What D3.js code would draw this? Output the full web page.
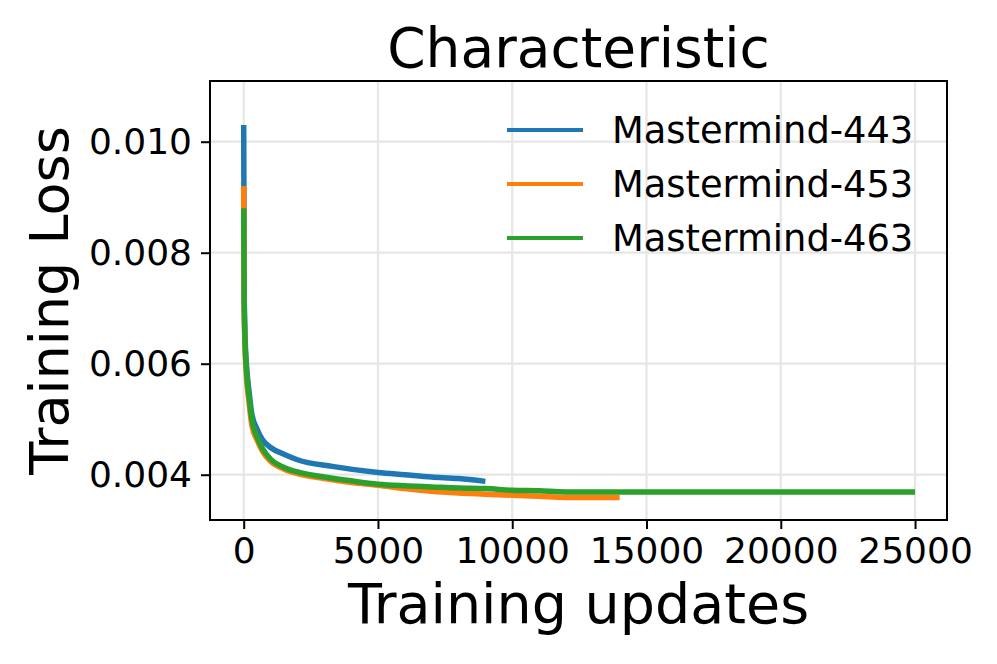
<!DOCTYPE html>
<html>
<head>
<meta charset="utf-8">
<script src="https://cdn.jsdelivr.net/npm/d3@7"></script>
<style>
  body { margin: 0; background: #fff; }
  text { font-family: "DejaVu Sans", sans-serif; fill: #000; }
</style>
</head>
<body>
<div id="chart"></div>
<script>
// values
var seriesNames = ["Mastermind-443", "Mastermind-453", "Mastermind-463"];
var seriesColors = ["#1f77b4", "#ff7f0e", "#2ca02c"];

var steps443 = [0, 20, 50, 100, 200, 300, 500, 700, 1000, 1500, 2000, 3300, 5000, 6000, 7000, 8000, 9000];
var loss443 = [0.0103, 0.0072, 0.0065, 0.0060, 0.0055, 0.0051, 0.00482, 0.00463, 0.00449, 0.00437, 0.00427, 0.00415, 0.00404, 0.00400, 0.00396, 0.00393, 0.00388];

var steps453 = [0, 20, 50, 100, 200, 300, 500, 700, 1000, 1500, 2000, 3000, 4000, 5000, 6000, 7000, 8000, 9000, 10000, 11000, 12000, 13000, 14000];
var loss453 = [0.0092, 0.0070, 0.0063, 0.0058, 0.0053, 0.0049, 0.00462, 0.00442, 0.00424, 0.00410, 0.00402, 0.00393, 0.00386, 0.00381, 0.00375, 0.00370, 0.00367, 0.00365, 0.00363, 0.00361, 0.00359, 0.00359, 0.00359];

var steps463 = [0, 20, 50, 100, 200, 300, 500, 700, 1000, 1500, 2000, 3000, 4000, 5000, 6000, 7000, 8000, 9000, 10000, 11000, 12000, 14000, 16000, 18000, 20000, 22000, 25000];
var loss463 = [0.0088, 0.0071, 0.0064, 0.0059, 0.0054, 0.0050, 0.00468, 0.00447, 0.00428, 0.00413, 0.00405, 0.00396, 0.00389, 0.00383, 0.00380, 0.00378, 0.00376, 0.00375, 0.00372, 0.00371, 0.00369, 0.00369, 0.00369, 0.00369, 0.00369, 0.00369, 0.00369];

var xTicks = [0, 5000, 10000, 15000, 20000, 25000];
var yTicks = [0.004, 0.006, 0.008, 0.010];

var svgWidth = 997;
var svgHeight = 664;
var margin = {top: 81, right: 50, bottom: 144, left: 210};
var width = svgWidth - margin.left - margin.right;
var height = svgHeight - margin.top - margin.bottom;

var svg = d3.select("#chart")
  .append("svg")
  .attr("width", svgWidth)
  .attr("height", svgHeight);

var chartGroup = svg.append("g")
  .attr("transform", `translate(${margin.left}, ${margin.top})`);

var xScale = d3.scaleLinear().domain([-1255, 26190]).range([0, width]);
var yScale = d3.scaleLinear().domain([0.003184, 0.011094]).range([height, 0]);

// grid
chartGroup.append("g")
  .selectAll("line")
  .data(xTicks)
  .enter()
  .append("line")
  .attr("x1", d => xScale(d)).attr("x2", d => xScale(d))
  .attr("y1", 0).attr("y2", height)
  .attr("stroke", "#e6e6e6")
  .attr("stroke-width", 2.2);
chartGroup.append("g")
  .selectAll("line")
  .data(yTicks)
  .enter()
  .append("line")
  .attr("x1", 0).attr("x2", width)
  .attr("y1", d => yScale(d)).attr("y2", d => yScale(d))
  .attr("stroke", "#e6e6e6")
  .attr("stroke-width", 2.2);

// curves
var line = d3.line()
  .x(d => xScale(d[0]))
  .y(d => yScale(d[1]))
  .curve(d3.curveMonotoneX);

var allSeries = [
  d3.zip(steps443, loss443),
  d3.zip(steps453, loss453),
  d3.zip(steps463, loss463)
];

allSeries.forEach(function(pts, i) {
  chartGroup.append("path")
    .datum(pts)
    .attr("d", line)
    .attr("fill", "none")
    .attr("stroke", seriesColors[i])
    .attr("stroke-width", 5.5)
    .attr("stroke-linejoin", "round");
});

// axes
var bottomAxis = d3.axisBottom(xScale).tickValues(xTicks).tickFormat(d3.format("d")).tickSize(9).tickPadding(8);
var leftAxis = d3.axisLeft(yScale).tickValues(yTicks).tickFormat(d3.format(".3f")).tickSize(9).tickPadding(9);

var xAxisG = chartGroup.append("g")
  .attr("transform", `translate(0, ${height})`)
  .call(bottomAxis);
var yAxisG = chartGroup.append("g").call(leftAxis);

[xAxisG, yAxisG].forEach(function(g) {
  g.select(".domain").remove();
  g.selectAll(".tick line").attr("stroke", "#000").attr("stroke-width", 2);
  g.selectAll(".tick text").style("font-size", "36px").style("font-family", "DejaVu Sans");
});

chartGroup.append("rect")
  .attr("x", 0).attr("y", 0)
  .attr("width", width).attr("height", height)
  .attr("fill", "none")
  .attr("stroke", "#000")
  .attr("stroke-width", 2);

// legend
var legend = chartGroup.append("g")
  .attr("transform", `translate(${507 - margin.left}, ${130 - margin.top})`);
seriesNames.forEach(function(name, i) {
  var row = legend.append("g").attr("transform", `translate(0, ${i * 54})`);
  row.append("line")
    .attr("x1", 0).attr("x2", 76)
    .attr("stroke", seriesColors[i])
    .attr("stroke-width", 4);
  row.append("text")
    .attr("x", 105)
    .attr("y", 13)
    .style("font-size", "36.8px")
    .text(name);
});

// titles
svg.append("text")
  .attr("x", margin.left + width / 2)
  .attr("y", 67)
  .attr("text-anchor", "middle")
  .style("font-size", "55px")
  .text("Characteristic");

svg.append("text")
  .attr("transform", `translate(${margin.left + width / 2}, 623)`)
  .attr("text-anchor", "middle")
  .style("font-size", "55.5px")
  .text("Training updates");

svg.append("text")
  .attr("transform", `translate(68, ${margin.top + height / 2}) rotate(-90)`)
  .attr("text-anchor", "middle")
  .style("font-size", "54px")
  .text("Training Loss");
</script>
</body>
</html>
